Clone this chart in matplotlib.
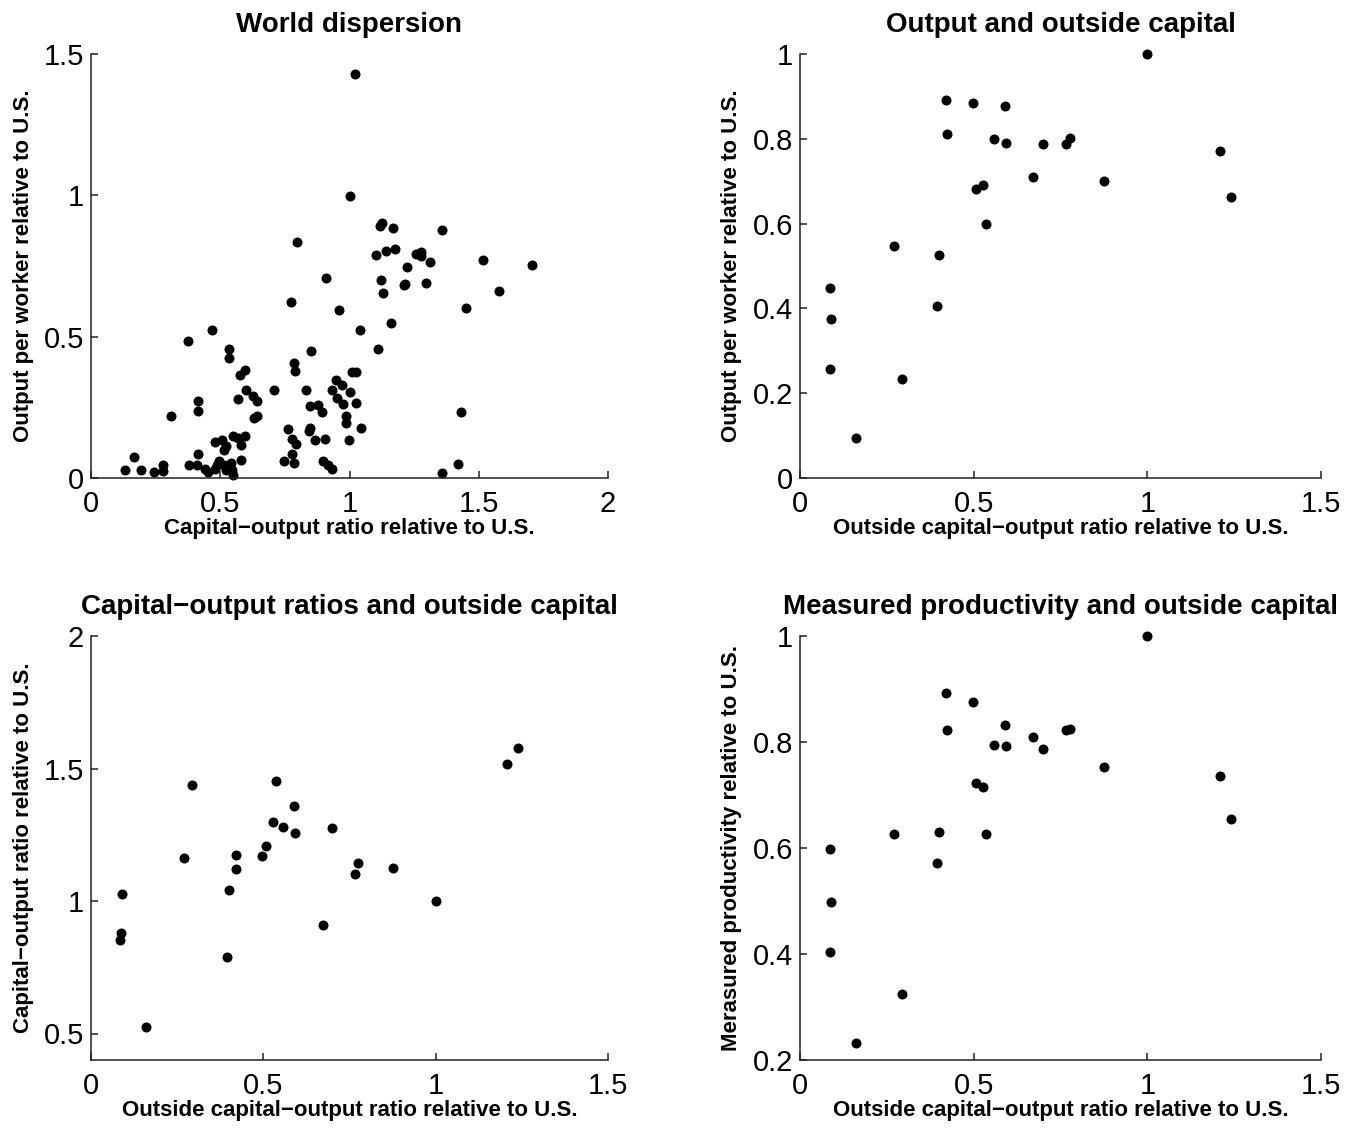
import matplotlib
matplotlib.use("Agg")
import matplotlib.pyplot as plt
from matplotlib.ticker import FuncFormatter, FixedLocator
import numpy as np

plt.rcParams['font.family'] = ['Liberation Sans', 'DejaVu Sans']

# ---------------- data ----------------
# Panel 1: World dispersion
world_ky = [1.02, 1.00, 0.796, 0.909, 0.774, 0.959, 1.039, 0.470, 0.374, 0.534,
            0.532, 0.851, 0.787, 0.790, 0.594, 0.575, 1.009, 1.024, 0.599, 0.625,
            0.644, 0.567, 0.709, 0.830, 0.948, 0.972, 0.934, 0.951, 0.974, 1.000,
            1.024, 0.879, 0.848, 0.894, 0.415, 0.415, 0.311, 0.631, 0.643, 0.987,
            0.988, 1.045, 0.997, 0.763, 0.778, 0.794, 0.848, 0.844, 0.865, 0.907,
            0.549, 0.567, 0.595, 0.580, 0.582, 0.481, 0.506, 0.521, 0.515, 0.415,
            0.379, 0.410, 0.442, 0.452, 0.481, 0.487, 0.497, 0.513, 0.523, 0.541,
            0.545, 0.548, 0.745, 0.776, 0.784, 0.898, 0.915, 0.932, 0.168, 0.131,
            0.193, 0.245, 0.278, 0.280, 1.119, 1.126, 1.170, 1.356, 1.103, 1.140,
            1.175, 1.256, 1.278, 1.277, 1.311, 1.223, 1.515, 1.707, 1.122, 1.131,
            1.210, 1.215, 1.296, 1.579, 1.451, 1.161, 1.111, 1.432, 1.420, 1.357]
world_y = [1.429, 0.999, 0.836, 0.709, 0.621, 0.596, 0.524, 0.523, 0.485, 0.457,
           0.424, 0.449, 0.406, 0.378, 0.383, 0.363, 0.375, 0.375, 0.313, 0.289,
           0.272, 0.280, 0.310, 0.313, 0.347, 0.330, 0.313, 0.283, 0.263, 0.303,
           0.267, 0.259, 0.253, 0.233, 0.271, 0.236, 0.221, 0.212, 0.219, 0.221,
           0.194, 0.177, 0.134, 0.173, 0.137, 0.119, 0.177, 0.168, 0.133, 0.137,
           0.150, 0.142, 0.150, 0.118, 0.062, 0.128, 0.135, 0.112, 0.098, 0.086,
           0.047, 0.045, 0.033, 0.021, 0.033, 0.045, 0.060, 0.045, 0.027, 0.053,
           0.027, 0.012, 0.060, 0.086, 0.053, 0.060, 0.045, 0.031, 0.074, 0.029,
           0.029, 0.021, 0.045, 0.026, 0.893, 0.902, 0.883, 0.877, 0.788, 0.802,
           0.809, 0.792, 0.800, 0.786, 0.764, 0.746, 0.772, 0.753, 0.701, 0.655,
           0.683, 0.687, 0.691, 0.663, 0.601, 0.547, 0.456, 0.233, 0.048, 0.016]

# Panels 2-4: countries with outside capital
outside_ky = [0.085, 0.089, 0.086, 0.161, 0.270, 0.293, 0.394, 0.399, 0.420, 0.422,
              0.497, 0.507, 0.527, 0.536, 0.558, 0.590, 0.592, 0.672, 0.699, 0.766,
              0.776, 0.875, 1.000, 1.208, 1.240]
output_pw = [0.449, 0.375, 0.258, 0.094, 0.548, 0.233, 0.406, 0.525, 0.892, 0.811,
             0.884, 0.682, 0.692, 0.600, 0.800, 0.878, 0.791, 0.709, 0.788, 0.787,
             0.802, 0.701, 1.000, 0.771, 0.662]
ky_ratio = [0.851, 1.026, 0.880, 0.523, 1.162, 1.438, 0.787, 1.040, 1.119, 1.174,
            1.169, 1.207, 1.298, 1.452, 1.279, 1.357, 1.255, 0.909, 1.276, 1.103,
            1.142, 1.124, 1.000, 1.516, 1.579]
productivity = [0.599, 0.499, 0.403, 0.233, 0.627, 0.324, 0.572, 0.630, 0.893, 0.823,
                0.875, 0.723, 0.715, 0.626, 0.795, 0.833, 0.793, 0.809, 0.787, 0.823,
                0.824, 0.753, 1.000, 0.736, 0.654]

titles = ["World dispersion", "Output and outside capital",
          "Capital\u2212output ratios and outside capital",
          "Measured productivity and outside capital"]
xlabels = ["Capital\u2212output ratio relative to U.S.",
           "Outside capital\u2212output ratio relative to U.S.",
           "Outside capital\u2212output ratio relative to U.S.",
           "Outside capital\u2212output ratio relative to U.S."]
ylabels = ["Output per worker relative to U.S.",
           "Output per worker relative to U.S.",
           "Capital\u2212output ratio relative to U.S.",
           "Merasured productivity relative to U.S."]
xticks_list = [[0, 0.5, 1, 1.5, 2], [0, 0.5, 1, 1.5], [0, 0.5, 1, 1.5], [0, 0.5, 1, 1.5]]
yticks_list = [[0, 0.5, 1, 1.5], [0, 0.2, 0.4, 0.6, 0.8, 1],
               [0.5, 1, 1.5, 2], [0.2, 0.4, 0.6, 0.8, 1]]
xlims = [(0, 2), (0, 1.5), (0, 1.5), (0, 1.5)]
ylims = [(0, 1.5), (0, 1), (0.4, 2), (0.2, 1)]

series = [(world_ky, world_y), (outside_ky, output_pw),
          (outside_ky, ky_ratio), (outside_ky, productivity)]

# ---------------- layout ----------------
W, H = 1359, 1136
fig = plt.figure(figsize=(W / 100, H / 100), dpi=100)
fig.patch.set_facecolor('white')

def frac(l, r, t, b):
    return [l / W, 1 - b / H, (r - l) / W, (b - t) / H]

rects = [frac(91, 608, 54, 478), frac(800, 1321, 54, 478),
         frac(91, 608, 636, 1060), frac(800, 1321, 636, 1060)]

fmt = FuncFormatter(lambda v, p: '%g' % v)

for i in range(4):
    ax = fig.add_axes(rects[i])
    x, y = series[i]
    ax.plot(x, y, 'o', color='black', markersize=7.2, markeredgewidth=0, linestyle='none',
            clip_on=False)
    ax.set_xlim(*xlims[i])
    ax.set_ylim(*ylims[i])
    ax.xaxis.set_major_locator(FixedLocator(xticks_list[i]))
    ax.yaxis.set_major_locator(FixedLocator(yticks_list[i]))
    ax.xaxis.set_major_formatter(fmt)
    ax.yaxis.set_major_formatter(fmt)
    for s in ['top', 'right']:
        ax.spines[s].set_visible(False)
    for s in ['left', 'bottom']:
        ax.spines[s].set_linewidth(1.1)
        ax.spines[s].set_color('#222222')
    ax.tick_params(direction='in', length=5, width=1.1, color='#222222',
                   labelsize=21, pad=5)
    ax.tick_params(axis='x', pad=9)
    ax.set_title(titles[i], fontsize=20, fontweight='bold', pad=16)
    ax.set_xlabel(xlabels[i], fontsize=16, fontweight='bold')
    ax.set_ylabel(ylabels[i], fontsize=16, fontweight='bold')
    ax.xaxis.set_label_coords(0.5, -0.094)
    ax.yaxis.set_label_coords(-0.111, 0.5)

fig.savefig('out.png', dpi=100, facecolor='white')
